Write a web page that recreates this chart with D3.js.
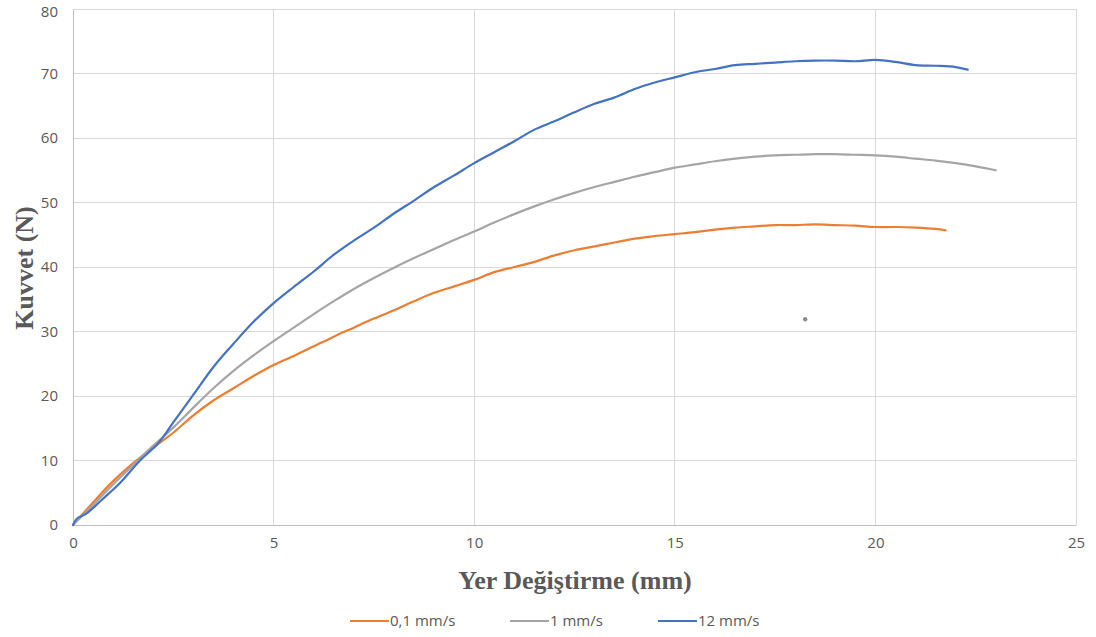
<!DOCTYPE html>
<html><head><meta charset="utf-8">
<script src="https://cdn.jsdelivr.net/npm/d3@7"></script>
<style>body{margin:0;background:#fff;} svg{display:block;}</style>
</head><body>
<svg id="c" width="1096" height="637"></svg>
<script>
const seriesNames = ["0,1 mm/s", "1 mm/s", "12 mm/s"];
const seriesColors = ["#ED7D31", "#A5A5A5", "#4472C4"];
const xTicks = [0, 5, 10, 15, 20, 25];
const yTicks = [0, 10, 20, 30, 40, 50, 60, 70, 80];

const orangeX = [0,0.5,1,1.5,2,2.5,3,3.5,4,4.5,5,5.5,6,6.5,7,7.5,8,8.5,9,9.5,10,10.5,11,11.5,12,12.5,13,13.5,14,14.5,15,15.5,16,16.5,17,17.5,18,18.5,19,19.5,20,20.5,21,21.5,21.75];
const orangeY = [0,3.5,6.8,9.6,12,14.3,17,19.3,21.2,23.1,24.8,26.2,27.7,29.2,30.6,32,33.3,34.7,36,37,38,39.2,40,40.8,41.8,42.6,43.2,43.8,44.4,44.8,45.1,45.4,45.8,46.1,46.3,46.5,46.5,46.6,46.5,46.4,46.2,46.2,46.1,45.9,45.7];

const grayX = [0,0.5,1,1.5,2,2.5,3,3.5,4,4.5,5,5.5,6,6.5,7,7.5,8,8.5,9,9.5,10,10.5,11,11.5,12,12.5,13,13.5,14,14.5,15,15.5,16,16.5,17,17.5,18,18.5,19,19.5,20,20.5,21,21.5,22,22.5,23];
const grayY = [0,3.1,6.3,9.3,12.3,15.1,18.2,21.2,23.9,26.3,28.5,30.6,32.7,34.7,36.6,38.3,39.9,41.4,42.8,44.2,45.5,46.9,48.2,49.4,50.5,51.5,52.4,53.2,54,54.7,55.4,55.9,56.4,56.8,57.1,57.3,57.4,57.5,57.5,57.4,57.3,57.1,56.8,56.5,56.1,55.6,55.0];

const blueX = [0,0.1,0.34,0.7,1.17,1.67,2.13,2.5,3,3.5,4,4.5,5,5.5,6,6.5,7,7.5,8,8.5,9,9.5,10,10.5,11,11.5,12,12.5,13,13.5,14,14.5,15,15.5,16,16.5,17,17.5,18,18.5,19,19.5,20,20.5,21,21.5,22,22.3];
const blueY = [0,1.0,1.8,3.8,6.5,10,12.7,15.9,20.2,24.5,28.1,31.5,34.4,36.9,39.3,41.9,44.1,46.1,48.3,50.3,52.4,54.2,56.1,57.8,59.5,61.3,62.6,64,65.3,66.3,67.6,68.6,69.4,70.2,70.7,71.3,71.5,71.7,71.9,72.0,72.0,71.9,72.1,71.8,71.3,71.2,71.0,70.6];

const strayX = [18.25];
const strayY = [31.9];

const allX = [orangeX, grayX, blueX];
const allY = [orangeY, grayY, blueY];

const svg = d3.select("#c");
const L = 73, R = 1076, T = 9, B = 525;
const x = d3.scaleLinear().domain([0, 25]).range([L, R]);
const y = d3.scaleLinear().domain([0, 80]).range([B, T]);
const font = "'Open Sans', 'Noto Sans', sans-serif";

// grid
svg.append("g").selectAll("line").data(yTicks).join("line")
  .attr("x1", L).attr("x2", R).attr("y1", d => y(d)).attr("y2", d => y(d))
  .attr("stroke", "#d9d9d9").attr("stroke-width", 1).attr("shape-rendering", "crispEdges");
svg.append("g").selectAll("line").data(xTicks).join("line")
  .attr("y1", T).attr("y2", B).attr("x1", d => x(d)).attr("x2", d => x(d))
  .attr("stroke", "#d9d9d9").attr("stroke-width", 1).attr("shape-rendering", "crispEdges");

// axes
const xAxis = d3.axisBottom(x).tickValues(xTicks).tickSize(0).tickPadding(12);
const gx = svg.append("g").attr("transform", `translate(0,${B})`).call(xAxis);
gx.select(".domain").attr("stroke", "#bfbfbf");
gx.selectAll("text").attr("fill", "#595959").attr("font-size", 15).attr("font-family", font);

const yAxis = d3.axisLeft(y).tickValues(yTicks).tickSize(0).tickPadding(15);
const gy = svg.append("g").attr("transform", `translate(${L},0)`).call(yAxis);
gy.select(".domain").attr("stroke", "#bfbfbf");
gy.selectAll("text").attr("fill", "#595959").attr("font-size", 15).attr("font-family", font)
  .attr("dy", d => d === 80 ? "0.5em" : "0.32em");

// lines
const line = d3.line().x(d => x(d[0])).y(d => y(d[1])).curve(d3.curveCatmullRom.alpha(0.5));
allX.forEach((xs, i) => {
  const pts = xs.map((v, j) => [v, allY[i][j]]);
  svg.append("path").datum(pts).attr("d", line)
    .attr("fill", "none").attr("stroke", seriesColors[i]).attr("stroke-width", 2.2)
    .attr("stroke-linejoin", "round").attr("stroke-linecap", "round");
});

// stray point
svg.append("g").selectAll("circle").data(strayX).join("circle")
  .attr("cx", d => x(d)).attr("cy", (d, i) => y(strayY[i])).attr("r", 2.2)
  .attr("fill", "#8c8c8c");

// axis titles
svg.append("text").attr("x", 575).attr("y", 589).attr("text-anchor", "middle")
  .attr("font-family", "'Liberation Serif', 'Times New Roman', serif").attr("font-weight", "bold")
  .attr("font-size", 26).attr("fill", "#595959").text("Yer Değiştirme (mm)");
svg.append("text").attr("transform", "translate(33,268) rotate(-90)").attr("text-anchor", "middle")
  .attr("font-family", "'Liberation Serif', 'Times New Roman', serif").attr("font-weight", "bold")
  .attr("font-size", 26).attr("fill", "#595959").text("Kuvvet (N)");

// legend
const legX = [350, 510, 658];
const leg = svg.append("g");
seriesNames.forEach((n, i) => {
  leg.append("line").attr("x1", legX[i]).attr("x2", legX[i] + 39).attr("y1", 621).attr("y2", 621)
    .attr("stroke", seriesColors[i]).attr("stroke-width", 2.2);
  leg.append("text").attr("x", legX[i] + 40).attr("y", 626).attr("font-family", font)
    .attr("font-size", 15).attr("fill", "#595959").text(n);
});
</script>
</body></html>
